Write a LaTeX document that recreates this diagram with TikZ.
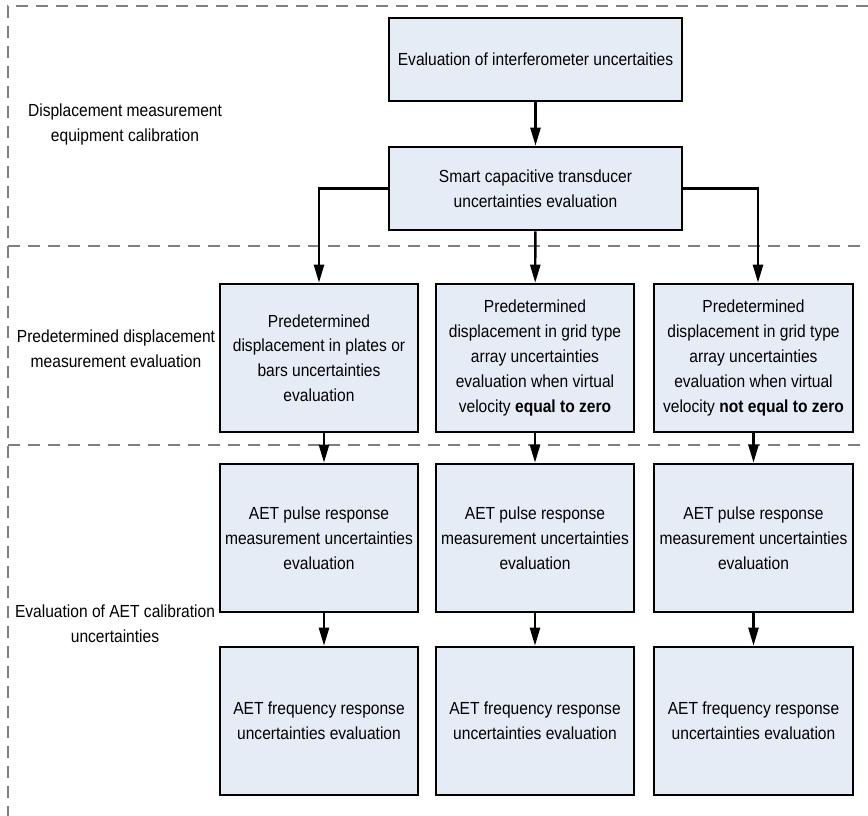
\documentclass[tikz,border=0pt]{standalone}
\usepackage{fontspec}
\setmainfont{Liberation Sans}[FakeStretch=0.89]
\usetikzlibrary{arrows.meta}
\definecolor{boxfill}{RGB}{230,236,246}
\definecolor{dashgray}{RGB}{128,128,128}
\begin{document}
\begin{tikzpicture}[x=1pt,y=-1pt,
  txt/.style={font=\fontsize{17.5}{24.8}\selectfont, align=center, inner sep=0pt},
  box/.style={txt, draw=black, line width=2.6pt, fill=boxfill, minimum width=#1, minimum height=148pt},
  box/.default=198pt,
  topbox/.style={txt, draw=black, line width=2.6pt, fill=boxfill, minimum width=293pt, minimum height=83pt},
  conn/.style={line width=2.4pt, -{Triangle[length=18pt,width=10pt]}},
  sep/.style={dashgray, line width=1.2pt, dash pattern=on 12pt off 8pt}
]
\useasboundingbox (0,0) rectangle (868,816);
% separators
\coordinate (tl) at (8,6);
\coordinate (tr) at (868,6);
\coordinate (bl) at (8,816);
\coordinate (s1l) at (8,246);
\coordinate (s1r) at (868,246);
\coordinate (s2l) at (8,445);
\coordinate (s2r) at (868,445);
\draw[sep] (tr) -- (tl) -- (bl);
\draw[sep] (s1l) -- (s1r);
\draw[sep] (s2l) -- (s2r);

% section labels
\node[txt] (l1) at (125,124.5) {Displacement measurement\\equipment calibration};
\node[txt] (l2) at (116,349) {Predetermined displacement\\measurement evaluation};
\node[txt] (l3) at (115,624) {Evaluation of AET calibration\\uncertainties};

% top boxes
\node[topbox] (b1) at (535.5,59.5) {Evaluation of interferometer uncertaities};
\node[topbox] (b2) at (535.5,188.5) {Smart capacitive transducer\\uncertainties evaluation};

% row 2
\node[box=198pt] (a1) at (319,358) {Predetermined\\displacement in plates or\\bars uncertainties\\evaluation};
\node[box=198pt] (a2) at (535,358) {Predetermined\\displacement in grid type\\array uncertainties\\evaluation when virtual\\velocity \textbf{equal to zero}};
\node[box=199pt] (a3) at (753.5,358) {Predetermined\\displacement in grid type\\array uncertainties\\evaluation when virtual\\velocity \textbf{not equal to zero}};

% row 3
\node[box=198pt] (p1) at (319,538) {AET pulse response\\measurement uncertainties\\evaluation};
\node[box=198pt] (p2) at (535,538) {AET pulse response\\measurement uncertainties\\evaluation};
\node[box=199pt] (p3) at (753.5,538) {AET pulse response\\measurement uncertainties\\evaluation};

% row 4
\node[box=198pt] (f1) at (319,721) {AET frequency response\\uncertainties evaluation};
\node[box=198pt] (f2) at (535,721) {AET frequency response\\uncertainties evaluation};
\node[box=199pt] (f3) at (753.5,721) {AET frequency response\\uncertainties evaluation};

% connectors
\draw[conn] (b1) -- (b2);
\draw[conn] (b2.west) -| (a1.north);
\draw[conn] (b2) -- (a2);
\draw[conn] (b2.east) -| ([xshift=4.5pt]a3.north);
\draw[conn] ([xshift=5pt]a1.south) -- ([xshift=5pt]p1.north);
\draw[conn] (a2) -- (p2);
\draw[conn] (a3) -- (p3);
\draw[conn] ([xshift=5pt]p1.south) -- ([xshift=5pt]f1.north);
\draw[conn] (p2) -- (f2);
\draw[conn] (p3) -- (f3);
\end{tikzpicture}
\end{document}
